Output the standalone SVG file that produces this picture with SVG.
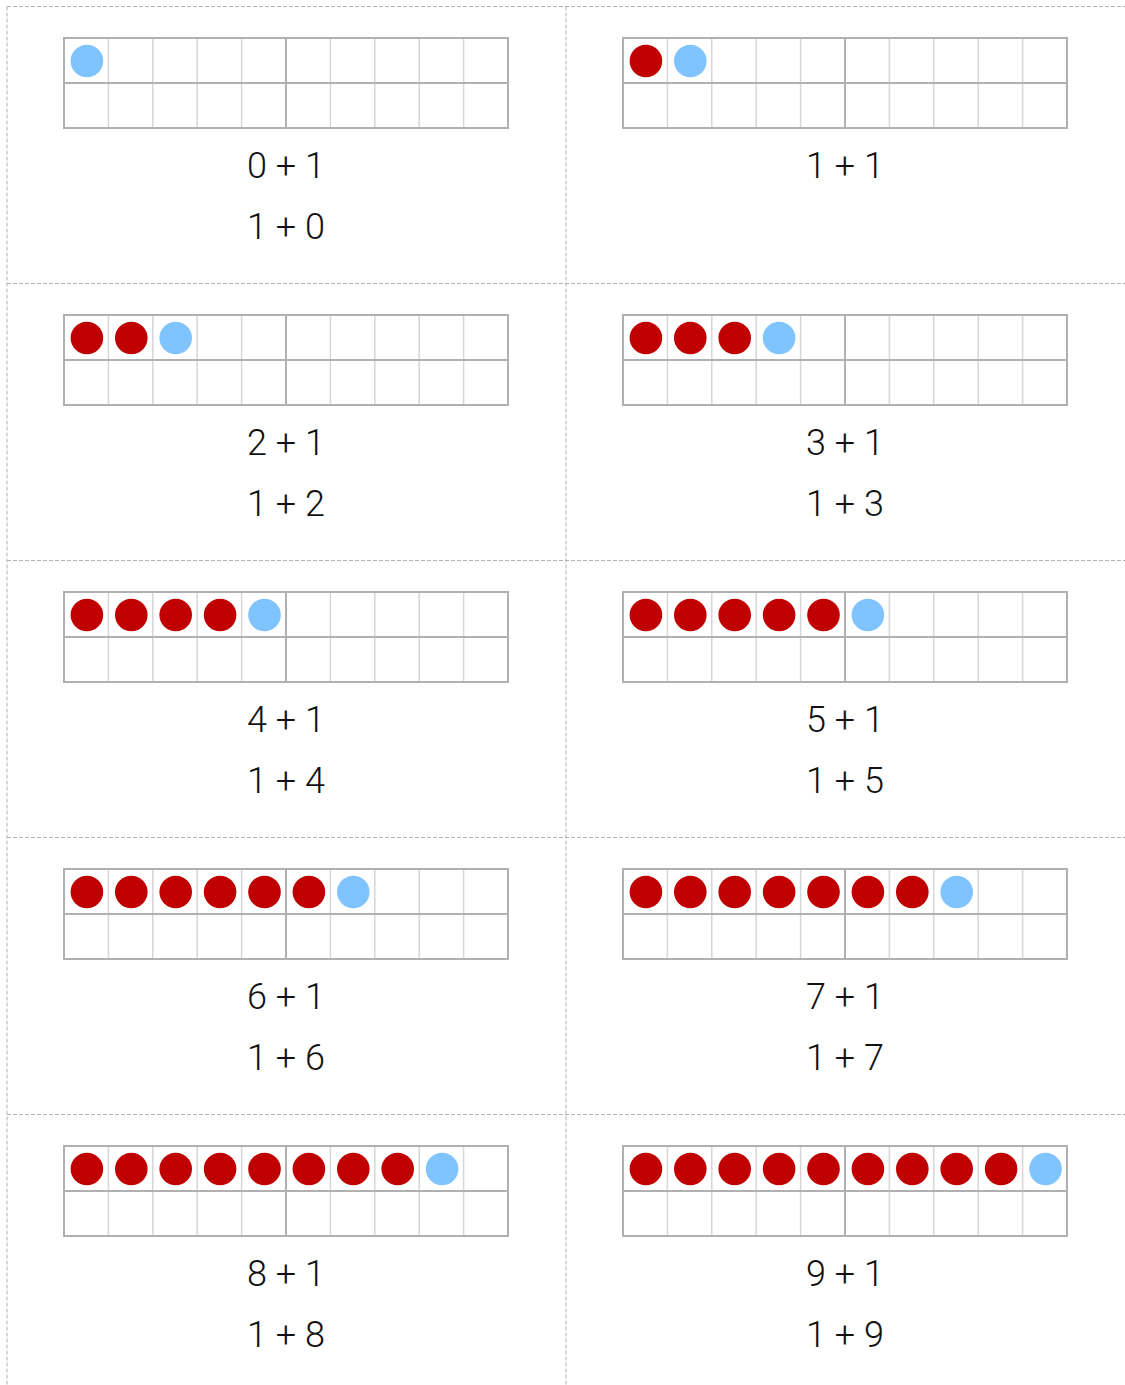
<svg xmlns="http://www.w3.org/2000/svg" xmlns:xlink="http://www.w3.org/1999/xlink" width="1125" height="1385" viewBox="0 0 1125 1385">
<style>
.cut{stroke:#b3b3b3;stroke-width:1;stroke-dasharray:4 2;fill:none}
.thin{stroke:#d6d6d6;stroke-width:1.5}
.thick{stroke:#b0b0b0;stroke-width:2}
.box{fill:#fff;stroke:#b0b0b0;stroke-width:2}
.r{fill:#c00000}
.b{fill:#80c4ff}
.t{font-family:Roboto,"Noto Sans",sans-serif;font-weight:300;font-size:36px;fill:#111;text-anchor:middle}
</style>
<defs>
<g id="frame">
<rect class="box" x="0" y="0" width="444" height="90"/>
<line class="thin" x1="44.4" y1="1" x2="44.4" y2="89"/>
<line class="thin" x1="88.8" y1="1" x2="88.8" y2="89"/>
<line class="thin" x1="133.2" y1="1" x2="133.2" y2="89"/>
<line class="thin" x1="177.6" y1="1" x2="177.6" y2="89"/>
<line class="thin" x1="266.4" y1="1" x2="266.4" y2="89"/>
<line class="thin" x1="310.8" y1="1" x2="310.8" y2="89"/>
<line class="thin" x1="355.2" y1="1" x2="355.2" y2="89"/>
<line class="thin" x1="399.6" y1="1" x2="399.6" y2="89"/>
<line class="thick" x1="0" y1="45" x2="444" y2="45"/>
<line class="thick" x1="222" y1="1" x2="222" y2="89"/>
</g>
<circle id="R" class="r" r="16.3"/>
<circle id="B" class="b" r="16.3"/>
</defs>
<rect width="1125" height="1385" fill="#fff"/>
<g id="cutlines">
<line class="cut" x1="7" y1="6.5" x2="1125" y2="6.5"/>
<line class="cut" x1="7" y1="283.5" x2="1125" y2="283.5"/>
<line class="cut" x1="7" y1="560.5" x2="1125" y2="560.5"/>
<line class="cut" x1="7" y1="837.5" x2="1125" y2="837.5"/>
<line class="cut" x1="7" y1="1114.5" x2="1125" y2="1114.5"/>
<line class="cut" x1="7" y1="6.5" x2="7" y2="1385"/>
<line class="cut" x1="566" y1="6.5" x2="566" y2="1385"/>
</g>
<g id="card0" transform="translate(7,6.5)">
<use xlink:href="#frame" x="57" y="31.5"/>
<use xlink:href="#B" x="79.9" y="54.5"/>
<text class="t" x="279" y="171.5">0 + 1</text>
<text class="t" x="279" y="232.5">1 + 0</text>
</g>
<g id="card1" transform="translate(566,6.5)">
<use xlink:href="#frame" x="57" y="31.5"/>
<use xlink:href="#R" x="79.9" y="54.5"/>
<use xlink:href="#B" x="124.3" y="54.5"/>
<text class="t" x="279" y="171.5">1 + 1</text>
</g>
<g id="card2" transform="translate(7,283.5)">
<use xlink:href="#frame" x="57" y="31.5"/>
<use xlink:href="#R" x="79.9" y="54.5"/>
<use xlink:href="#R" x="124.3" y="54.5"/>
<use xlink:href="#B" x="168.7" y="54.5"/>
<text class="t" x="279" y="171.5">2 + 1</text>
<text class="t" x="279" y="232.5">1 + 2</text>
</g>
<g id="card3" transform="translate(566,283.5)">
<use xlink:href="#frame" x="57" y="31.5"/>
<use xlink:href="#R" x="79.9" y="54.5"/>
<use xlink:href="#R" x="124.3" y="54.5"/>
<use xlink:href="#R" x="168.7" y="54.5"/>
<use xlink:href="#B" x="213.1" y="54.5"/>
<text class="t" x="279" y="171.5">3 + 1</text>
<text class="t" x="279" y="232.5">1 + 3</text>
</g>
<g id="card4" transform="translate(7,560.5)">
<use xlink:href="#frame" x="57" y="31.5"/>
<use xlink:href="#R" x="79.9" y="54.5"/>
<use xlink:href="#R" x="124.3" y="54.5"/>
<use xlink:href="#R" x="168.7" y="54.5"/>
<use xlink:href="#R" x="213.1" y="54.5"/>
<use xlink:href="#B" x="257.5" y="54.5"/>
<text class="t" x="279" y="171.5">4 + 1</text>
<text class="t" x="279" y="232.5">1 + 4</text>
</g>
<g id="card5" transform="translate(566,560.5)">
<use xlink:href="#frame" x="57" y="31.5"/>
<use xlink:href="#R" x="79.9" y="54.5"/>
<use xlink:href="#R" x="124.3" y="54.5"/>
<use xlink:href="#R" x="168.7" y="54.5"/>
<use xlink:href="#R" x="213.1" y="54.5"/>
<use xlink:href="#R" x="257.5" y="54.5"/>
<use xlink:href="#B" x="301.9" y="54.5"/>
<text class="t" x="279" y="171.5">5 + 1</text>
<text class="t" x="279" y="232.5">1 + 5</text>
</g>
<g id="card6" transform="translate(7,837.5)">
<use xlink:href="#frame" x="57" y="31.5"/>
<use xlink:href="#R" x="79.9" y="54.5"/>
<use xlink:href="#R" x="124.3" y="54.5"/>
<use xlink:href="#R" x="168.7" y="54.5"/>
<use xlink:href="#R" x="213.1" y="54.5"/>
<use xlink:href="#R" x="257.5" y="54.5"/>
<use xlink:href="#R" x="301.9" y="54.5"/>
<use xlink:href="#B" x="346.3" y="54.5"/>
<text class="t" x="279" y="171.5">6 + 1</text>
<text class="t" x="279" y="232.5">1 + 6</text>
</g>
<g id="card7" transform="translate(566,837.5)">
<use xlink:href="#frame" x="57" y="31.5"/>
<use xlink:href="#R" x="79.9" y="54.5"/>
<use xlink:href="#R" x="124.3" y="54.5"/>
<use xlink:href="#R" x="168.7" y="54.5"/>
<use xlink:href="#R" x="213.1" y="54.5"/>
<use xlink:href="#R" x="257.5" y="54.5"/>
<use xlink:href="#R" x="301.9" y="54.5"/>
<use xlink:href="#R" x="346.3" y="54.5"/>
<use xlink:href="#B" x="390.7" y="54.5"/>
<text class="t" x="279" y="171.5">7 + 1</text>
<text class="t" x="279" y="232.5">1 + 7</text>
</g>
<g id="card8" transform="translate(7,1114.5)">
<use xlink:href="#frame" x="57" y="31.5"/>
<use xlink:href="#R" x="79.9" y="54.5"/>
<use xlink:href="#R" x="124.3" y="54.5"/>
<use xlink:href="#R" x="168.7" y="54.5"/>
<use xlink:href="#R" x="213.1" y="54.5"/>
<use xlink:href="#R" x="257.5" y="54.5"/>
<use xlink:href="#R" x="301.9" y="54.5"/>
<use xlink:href="#R" x="346.3" y="54.5"/>
<use xlink:href="#R" x="390.7" y="54.5"/>
<use xlink:href="#B" x="435.1" y="54.5"/>
<text class="t" x="279" y="171.5">8 + 1</text>
<text class="t" x="279" y="232.5">1 + 8</text>
</g>
<g id="card9" transform="translate(566,1114.5)">
<use xlink:href="#frame" x="57" y="31.5"/>
<use xlink:href="#R" x="79.9" y="54.5"/>
<use xlink:href="#R" x="124.3" y="54.5"/>
<use xlink:href="#R" x="168.7" y="54.5"/>
<use xlink:href="#R" x="213.1" y="54.5"/>
<use xlink:href="#R" x="257.5" y="54.5"/>
<use xlink:href="#R" x="301.9" y="54.5"/>
<use xlink:href="#R" x="346.3" y="54.5"/>
<use xlink:href="#R" x="390.7" y="54.5"/>
<use xlink:href="#R" x="435.1" y="54.5"/>
<use xlink:href="#B" x="479.5" y="54.5"/>
<text class="t" x="279" y="171.5">9 + 1</text>
<text class="t" x="279" y="232.5">1 + 9</text>
</g>
</svg>
